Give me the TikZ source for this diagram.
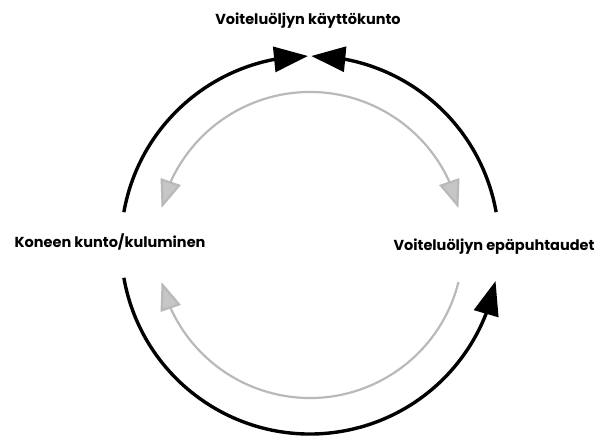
\documentclass[tikz,border=0pt]{standalone}
\usepackage{fontspec}
\setmainfont{Poppins}
\usetikzlibrary{arrows.meta,bending}

\begin{document}
\begin{tikzpicture}[
  x=1pt, y=1pt,
  every node/.style={font=\bfseries\fontsize{14.5}{16}\selectfont},
  mustakarki/.tip={Triangle[length=34pt, width=25pt]},
  harmaakarki/.tip={Triangle[length=28pt, width=21pt, fill=gray!45]},
  ulko/.style={line width=3.4pt, black, -mustakarki},
  sisa/.style={line width=2.2pt, gray!55}
]
  \useasboundingbox (0,0) rectangle (611,436);
  \coordinate (c) at (310,191);

  % Labels
  \node (kunto) at (308,415) {Voiteluöljyn käyttökunto};
  \node (kone) at (110,194) {Koneen kunto/kuluminen};
  \node (epapuhtaus) at (494,189) {Voiteluöljyn epäpuhtaudet};

  % Outer black arcs
  \draw[ulko] ([shift={(170:189pt)}]c) arc[start angle=170, end angle=90.6, radius=189pt];
  \draw[ulko] ([shift={(10:189pt)}]c) arc[start angle=10, end angle=89.6, radius=189pt];
  \draw[ulko] ([shift={(190:189pt)}]c) arc[start angle=190, end angle=349, radius=189pt];

  % Inner grey arcs
  \draw[sisa, harmaakarki-harmaakarki]
    ([shift={(14:153pt)}]c) arc[start angle=14, end angle=166, radius=153pt];
  \draw[sisa, -harmaakarki]
    ([shift={(-14:153pt)}]c) arc[start angle=-14, end angle=-166, radius=153pt];
\end{tikzpicture}
\end{document}
